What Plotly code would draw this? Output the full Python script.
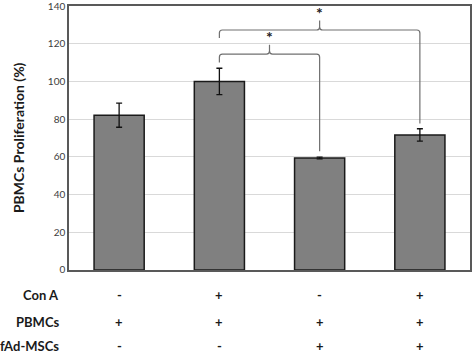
import plotly.graph_objects as go

groups = ["G1", "G2", "G3", "G4"]
proliferation = [82.1, 100.0, 59.4, 71.6]
sd = [6.4, 7.0, 0.5, 3.3]
tick_vals = [0, 20, 40, 60, 80, 100, 120, 140]
row_labels = ["Con A", "PBMCs", "fAd-MSCs"]
con_a = ["-", "+", "-", "+"]
pbmcs = ["+", "+", "+", "+"]
fad_mscs = ["-", "-", "+", "+"]
# brackets: (left group idx, right group idx, left leg bottom, right leg bottom, bar level, tip level, star level)
brackets = [(1, 2, 110.0, 63.0, 114.5, 119.5, 117.8),
            (1, 3, 123.0, 77.7, 127.3, 132.3, 130.6)]

xs = list(range(len(groups)))

fig = go.Figure()
fig.add_trace(go.Bar(
    x=xs, y=proliferation, width=0.5,
    marker=dict(color="#808080", line=dict(color="#1a1a1a", width=1.5)),
    error_y=dict(type="data", array=sd, visible=True, color="#111111", thickness=1.3, width=3),
    showlegend=False, hoverinfo="skip",
))

shapes = []
annotations = []
rx, ry = 0.03, 1.6
for (a, b, yl, yr, yb, yt, ys) in brackets:
    xm = (a + b) / 2
    path = (f"M {a},{yl} L {a},{yb - ry} Q {a},{yb} {a + rx},{yb} "
            f"L {xm - rx},{yb} Q {xm},{yb} {xm},{yb + ry} L {xm},{yt} "
            f"M {xm},{yb + ry} Q {xm},{yb} {xm + rx},{yb} "
            f"L {b - rx},{yb} Q {b},{yb} {b},{yb - ry} L {b},{yr}")
    shapes.append(dict(type="path", xref="x", yref="y", path=path,
                       line=dict(color="#707070", width=1.2)))
    annotations.append(dict(x=xm, y=ys, xref="x", yref="y", text="<b>*</b>",
                            showarrow=False, yanchor="bottom",
                            font=dict(size=16, color="#222222", family="Lato")))

row_y = [-0.096, -0.197, -0.288]
for lab, ry_ in zip(row_labels, row_y):
    annotations.append(dict(x=-0.02, y=ry_, xref="paper", yref="paper", text=f"<b>{lab}</b>",
                            showarrow=False, xanchor="right", yanchor="middle",
                            font=dict(size=13, color="#1a1a1a", family="Lato")))
for signs, ry_ in zip([con_a, pbmcs, fad_mscs], row_y):
    for x, s in zip(xs, signs):
        annotations.append(dict(x=x, y=ry_, xref="x", yref="paper", text=f"<b>{s}</b>",
                                showarrow=False, xanchor="center", yanchor="middle",
                                font=dict(size=13, color="#1a1a1a", family="Lato")))

annotations.append(dict(x=-0.127, y=0.5, xref="paper", yref="paper",
                        text="<b>PBMCs Proliferation (%)</b>", textangle=-90,
                        showarrow=False, xanchor="center", yanchor="middle",
                        font=dict(size=14, color="#1a1a1a", family="Lato")))

fig.update_layout(
    width=472, height=353,
    margin=dict(l=69, r=2, t=6, b=83, autoexpand=False),
    paper_bgcolor="white", plot_bgcolor="white",
    font=dict(family="Lato", color="#404040"),
    bargap=0.5,
    shapes=shapes,
    annotations=annotations,
    xaxis=dict(range=[-0.5, 3.5], showticklabels=False, showgrid=False, zeroline=False,
               automargin=False,
               showline=True, linecolor="#595959", linewidth=1.5, mirror=True, ticks=""),
    yaxis=dict(range=[-0.02, 140.02], tickvals=tick_vals, showgrid=True, gridcolor="#d9d9d9", gridwidth=1,
               zeroline=False, showline=True, linecolor="#595959", linewidth=1.5, mirror=True,
               automargin=False, ticklabeloverflow="allow",
               tickfont=dict(size=10, color="#404040", family="Lato"), ticks="", ticklen=0),
)

fig.write_html("out.html", config={"displayModeBar": False},
               post_script="document.body.style.margin='0';document.body.style.padding='0';")
